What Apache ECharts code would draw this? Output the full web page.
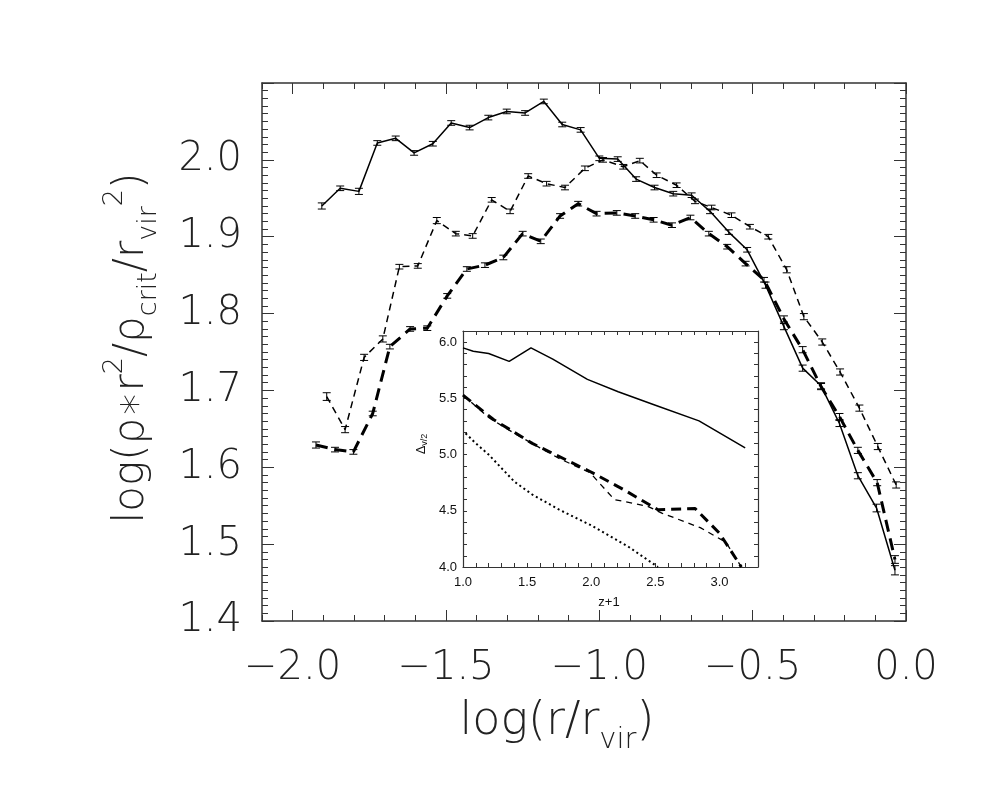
<!DOCTYPE html>
<html>
<head>
<meta charset="utf-8">
<script src="https://cdn.jsdelivr.net/npm/echarts@6/dist/echarts.min.js"></script>
<style>html,body{margin:0;padding:0;background:#fff}#c{width:984px;height:788px}</style>
</head>
<body>
<div id="c"></div>
<script>
// ---- main panel data ----
const solidX = [-1.905,-1.845,-1.784,-1.724,-1.664,-1.604,-1.543,-1.483,-1.423,-1.362,-1.302,-1.242,-1.181,-1.121,-1.061,-1.000,-0.940,-0.880,-0.820,-0.759,-0.699,-0.639,-0.578,-0.518,-0.458,-0.398,-0.337,-0.277,-0.217,-0.157,-0.096,-0.036];
const solidY = [1.940,1.963,1.959,2.022,2.028,2.009,2.021,2.048,2.042,2.055,2.063,2.061,2.076,2.046,2.039,2.002,2.001,1.975,1.964,1.956,1.954,1.933,1.906,1.883,1.837,1.783,1.729,1.706,1.657,1.589,1.547,1.466];
const solidErr = [0.004,0.003,0.004,0.003,0.003,0.003,0.003,0.003,0.003,0.003,0.003,0.003,0.003,0.003,0.003,0.003,0.003,0.003,0.003,0.003,0.003,0.003,0.003,0.003,0.004,0.004,0.004,0.004,0.004,0.004,0.005,0.006];

const shortX = [-1.889,-1.829,-1.767,-1.706,-1.652,-1.592,-1.530,-1.468,-1.413,-1.351,-1.291,-1.232,-1.172,-1.112,-1.047,-0.988,-0.922,-0.868,-0.813,-0.748,-0.688,-0.634,-0.569,-0.509,-0.449,-0.389,-0.333,-0.273,-0.215,-0.152,-0.092,-0.032];
const shortY = [1.692,1.649,1.743,1.767,1.861,1.862,1.921,1.904,1.901,1.948,1.933,1.979,1.969,1.964,1.989,2.000,1.991,1.999,1.980,1.967,1.946,1.938,1.928,1.913,1.900,1.857,1.796,1.763,1.724,1.677,1.627,1.577];
const shortErr = [0.005,0.004,0.004,0.004,0.003,0.003,0.004,0.003,0.003,0.003,0.003,0.003,0.003,0.003,0.003,0.003,0.003,0.003,0.003,0.003,0.003,0.003,0.003,0.003,0.003,0.004,0.004,0.004,0.004,0.004,0.004,0.004];

const thickX = [-1.924,-1.862,-1.802,-1.739,-1.683,-1.617,-1.561,-1.496,-1.432,-1.373,-1.313,-1.250,-1.191,-1.128,-1.069,-1.009,-0.943,-0.883,-0.823,-0.763,-0.703,-0.643,-0.583,-0.523,-0.463,-0.398,-0.337,-0.277,-0.217,-0.157,-0.094,-0.036];
const thickY = [1.629,1.623,1.620,1.670,1.757,1.780,1.781,1.823,1.858,1.863,1.873,1.904,1.894,1.927,1.943,1.930,1.931,1.927,1.922,1.915,1.925,1.904,1.887,1.865,1.844,1.793,1.753,1.705,1.666,1.622,1.580,1.480];
const thickErr = [0.004,0.003,0.003,0.003,0.003,0.003,0.003,0.003,0.003,0.003,0.003,0.003,0.003,0.003,0.003,0.003,0.003,0.003,0.003,0.003,0.003,0.003,0.003,0.003,0.003,0.004,0.004,0.004,0.004,0.004,0.004,0.005];

const xMajorTicks = [-2.0,-1.5,-1.0,-0.5,0.0];

// ---- inset data ----
const insetSolidX = [1.00,1.08,1.20,1.36,1.53,1.70,1.97,2.21,2.50,2.84,3.20];
const insetSolidY = [5.95,5.92,5.90,5.83,5.95,5.85,5.67,5.56,5.44,5.30,5.06];
const insetThickX = [1.00,1.24,1.37,1.54,1.99,2.25,2.52,2.81,3.00,3.17];
const insetThickY = [5.53,5.31,5.22,5.10,4.85,4.69,4.51,4.52,4.30,4.00];
const insetThinX = [1.00,1.20,1.40,1.60,1.76,1.99,2.18,2.44,2.55,2.85,3.05,3.17];
const insetThinY = [5.53,5.33,5.19,5.06,4.96,4.84,4.60,4.54,4.48,4.35,4.22,4.00];
const insetDotX = [1.02,1.10,1.20,1.30,1.40,1.54,1.75,2.00,2.29,2.52];
const insetDotY = [5.19,5.10,5.00,4.88,4.76,4.645,4.51,4.37,4.18,4.00];

const zip = (a, b) => a.map((v, i) => [v, b[i]]);
const zip3 = (a, b, c) => a.map((v, i) => [v, b[i], c[i]]);

const frame = '#333';
const thinFont = 'DejaVu Sans';
const txtColor = '#222';
const tickFont = {fontFamily: thinFont, fontWeight: 200, fontSize: 40, color: txtColor};
const inFont = {fontFamily: 'Liberation Sans', fontSize: 13, color: '#111'};
const isHalf = v => Math.abs(v * 2 - Math.round(v * 2)) < 1e-6;
const fmt = v => (v < -1e-9 ? '\u2212' : '') + Math.abs(v).toFixed(1);

function errItem(params, api) {
  const x = api.value(0), y = api.value(1), e = api.value(2);
  const t = api.coord([x, y + e]), b = api.coord([x, y - e]);
  const hw = 4;
  const st = {stroke: '#000', lineWidth: 1};
  return {type: 'group', children: [
    {type: 'line', shape: {x1: t[0], y1: t[1], x2: b[0], y2: b[1]}, style: st},
    {type: 'line', shape: {x1: t[0] - hw, y1: t[1], x2: t[0] + hw, y2: t[1]}, style: st},
    {type: 'line', shape: {x1: b[0] - hw, y1: b[1], x2: b[0] + hw, y2: b[1]}, style: st}
  ]};
}

function mainXAxis(pos, withLabels) {
  return {
    gridIndex: 0, type: 'value', position: pos, min: -2.1, max: 0, interval: 0.1,
    axisLine: {show: true, onZero: false, lineStyle: {color: frame, width: 1.5}},
    axisTick: {show: true, inside: true, length: 6, lineStyle: {color: frame, width: 1}},
    axisLabel: withLabels ? Object.assign({show: true, customValues: xMajorTicks, margin: 28,
      formatter: v => isHalf(v) ? fmt(v) : ''}, tickFont) : {show: false},
    splitLine: {show: false}
  };
}
function mainXMajor(pos) {
  return {
    gridIndex: 0, type: 'value', position: pos, min: -2.1, max: 0,
    axisLine: {show: false, onZero: false},
    axisTick: {show: true, inside: true, length: 11, customValues: xMajorTicks, lineStyle: {color: frame, width: 1}},
    axisLabel: {show: false}, splitLine: {show: false}
  };
}
function mainYAxis(pos, withLabels) {
  return {
    gridIndex: 0, type: 'value', position: pos, min: 1.4, max: 2.1, interval: 0.1,
    axisLine: {show: true, onZero: false, lineStyle: {color: frame, width: 1.5}},
    axisTick: {show: true, inside: true, length: 12, lineStyle: {color: frame, width: 1}},
    minorTick: {show: true, splitNumber: 10, length: 6, lineStyle: {color: frame, width: 1}},
    axisLabel: withLabels ? Object.assign({show: true, margin: 20,
      formatter: v => v > 2.05 ? '' : v.toFixed(1)}, tickFont) : {show: false},
    splitLine: {show: false}, minorSplitLine: {show: false}
  };
}
function insetXAxis(pos, withLabels) {
  return {
    gridIndex: 1, type: 'value', position: pos, min: 1.0, max: 3.3, interval: 0.1, z: 6,
    axisLine: {show: true, onZero: false, lineStyle: {color: frame, width: 1.2}},
    axisTick: {show: true, inside: true, length: 4, lineStyle: {color: frame, width: 1}},
    axisLabel: withLabels ? Object.assign({show: true, margin: 9, showMaxLabel: false,
      formatter: v => isHalf(v) ? v.toFixed(1) : ''}, inFont) : {show: false},
    splitLine: {show: false}
  };
}
function insetYAxis(pos, withLabels) {
  return {
    gridIndex: 1, type: 'value', position: pos, min: 4.0, max: 6.1, interval: 0.1, z: 6,
    axisLine: {show: true, onZero: false, lineStyle: {color: frame, width: 1.2}},
    axisTick: {show: true, inside: true, length: 4, lineStyle: {color: frame, width: 1}},
    axisLabel: withLabels ? Object.assign({show: true, margin: 6, showMaxLabel: false,
      formatter: v => isHalf(v) ? v.toFixed(1) : ''}, inFont) : {show: false},
    splitLine: {show: false}
  };
}

function richSet(main, small) {
  return {
    a: {fontFamily: thinFont, fontWeight: 200, fontSize: main, lineHeight: main * 1.45, fill: txtColor, color: txtColor},
    p: {fontFamily: thinFont, fontWeight: 200, fontSize: small, lineHeight: small, verticalAlign: 'top', fill: txtColor, color: txtColor},
    b: {fontFamily: thinFont, fontWeight: 200, fontSize: small, lineHeight: small, verticalAlign: 'bottom', fill: txtColor, color: txtColor}
  };
}

const option = {
  backgroundColor: '#fff',
  animation: false,
  grid: [
    {left: 262, top: 83, width: 644, height: 538, show: false},
    {left: 463, top: 331, width: 295, height: 236, show: true, backgroundColor: '#fff', borderWidth: 0, z: 5}
  ],
  xAxis: [
    mainXAxis('bottom', true), mainXMajor('bottom'),
    mainXAxis('top', false), mainXMajor('top'),
    insetXAxis('bottom', true), insetXAxis('top', false)
  ],
  yAxis: [
    mainYAxis('left', true), mainYAxis('right', false),
    insetYAxis('left', true), insetYAxis('right', false)
  ],
  series: [
    {type: 'line', xAxisIndex: 0, yAxisIndex: 0, data: zip(solidX, solidY), symbol: 'none', z: 2,
     lineStyle: {color: '#000', width: 1.5, type: 'solid'}},
    {type: 'line', xAxisIndex: 0, yAxisIndex: 0, data: zip(shortX, shortY), symbol: 'none', z: 2,
     lineStyle: {color: '#000', width: 1.5, type: [7, 5]}},
    {type: 'line', xAxisIndex: 0, yAxisIndex: 0, data: zip(thickX, thickY), symbol: 'none', z: 2,
     lineStyle: {color: '#000', width: 3, type: [12, 7]}},
    {type: 'custom', xAxisIndex: 0, yAxisIndex: 0, renderItem: errItem, data: zip3(solidX, solidY, solidErr), encode: {x: 0, y: 1}, z: 3},
    {type: 'custom', xAxisIndex: 0, yAxisIndex: 0, renderItem: errItem, data: zip3(shortX, shortY, shortErr), encode: {x: 0, y: 1}, z: 3},
    {type: 'custom', xAxisIndex: 0, yAxisIndex: 0, renderItem: errItem, data: zip3(thickX, thickY, thickErr), encode: {x: 0, y: 1}, z: 3},
    {type: 'line', xAxisIndex: 4, yAxisIndex: 2, data: zip(insetSolidX, insetSolidY), symbol: 'none', z: 7,
     lineStyle: {color: '#000', width: 1.5, type: 'solid'}},
    {type: 'line', xAxisIndex: 4, yAxisIndex: 2, data: zip(insetThickX, insetThickY), symbol: 'none', z: 7,
     lineStyle: {color: '#000', width: 3, type: [10, 6]}},
    {type: 'line', xAxisIndex: 4, yAxisIndex: 2, data: zip(insetThinX, insetThinY), symbol: 'none', z: 7,
     lineStyle: {color: '#000', width: 1.3, type: [6, 5]}},
    {type: 'line', xAxisIndex: 4, yAxisIndex: 2, data: zip(insetDotX, insetDotY), symbol: 'none', z: 7,
     lineStyle: {color: '#000', width: 2, type: [2, 3]}}
  ],
  graphic: [
    {type: 'text', x: 557, y: 722, z: 20,
     style: {text: '{a|log(r/r}{b|vir}{a|)}', rich: richSet(46, 29), align: 'center', verticalAlign: 'middle'}},
    {type: 'text', x: 132, y: 348, z: 20, rotation: Math.PI / 2,
     style: {text: '{a|log(\u03c1\u2217r}{p|2}{a|/\u03c1}{b|crit}{a|/r}{b|vir}{p|2}{a|)}', rich: richSet(42, 27), align: 'center', verticalAlign: 'middle'}},
    {type: 'text', x: 609, y: 602, z: 20,
     style: {text: 'z+1', fontFamily: 'Liberation Sans', fontSize: 13, fill: '#111', align: 'center', verticalAlign: 'middle'}},
    {type: 'text', x: 421, y: 444, z: 20, rotation: Math.PI / 2,
     style: {text: '{a|\u0394}{b|v/2}', align: 'center', verticalAlign: 'middle',
       rich: {a: {fontFamily: 'Liberation Sans', fontSize: 13, lineHeight: 16, fill: '#111'},
              b: {fontFamily: 'Liberation Sans', fontSize: 9, lineHeight: 9, verticalAlign: 'bottom', fill: '#111'}}}}
  ]
};

const chart = echarts.init(document.getElementById('c'), null, {renderer: 'canvas'});
chart.setOption(option);
</script>
</body>
</html>
